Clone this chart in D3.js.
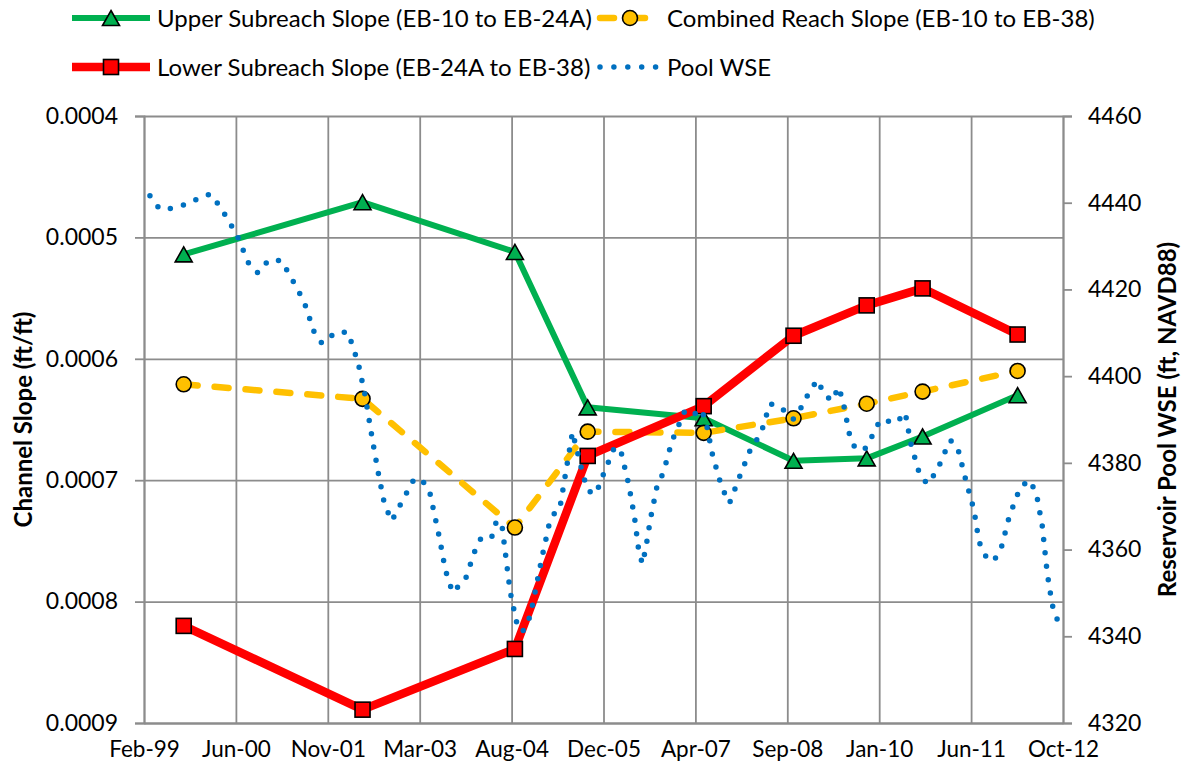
<!DOCTYPE html>
<html>
<head>
<meta charset="utf-8">
<script src="https://cdn.jsdelivr.net/npm/d3@7"></script>
<style>
  body { margin: 0; background: #fff; }
  svg text { font-family: Lato, "Open Sans", sans-serif; fill: #000; }
</style>
</head>
<body>
<svg id="chart" width="1182" height="771"></svg>
<script>
// --- DATA ---
// survey dates of the slope series
const surveyDates = ["1999-09-14", "2002-05-14", "2004-08-20", "2005-09-20", "2007-06-13",
                     "2008-10-14", "2009-11-16", "2010-09-16", "2012-02-15"];
const upperSlope    = [0.000514, 0.000471, 0.000512, 0.000640, 0.000649, 0.000684, 0.000682, 0.000664, 0.000630];
const combinedSlope = [0.000621, 0.000633, 0.000739, 0.000660, 0.000661, 0.000649, 0.000637, 0.000627, 0.000610];
const lowerSlope    = [0.000820, 0.000889, 0.000839, 0.000680, 0.000639, 0.000581, 0.000556, 0.000542, 0.000580];

// reservoir pool water surface (decimal year, ft NAVD88)
const poolYear = [
  1999.198, 1999.340, 1999.515, 1999.731, 1999.915, 2000.098, 2000.248, 2000.490, 2000.673, 2000.806,
  2000.965, 2001.148, 2001.265, 2001.490, 2001.640, 2001.756, 2001.965, 2002.148, 2002.298, 2002.398,
  2002.515, 2002.598, 2002.690, 2002.798, 2002.981, 2003.123, 2003.240, 2003.365, 2003.515, 2003.598,
  2003.706, 2003.898, 2004.048, 2004.140, 2004.290, 2004.365, 2004.448, 2004.506, 2004.565, 2004.665,
  2004.748, 2004.865, 2004.956, 2005.048, 2005.148, 2005.223, 2005.298, 2005.490, 2005.598, 2005.656,
  2005.731, 2005.840, 2005.923, 2006.106, 2006.165, 2006.223, 2006.331, 2006.415, 2006.473, 2006.531,
  2006.581, 2006.656, 2006.748, 2006.848, 2006.973, 2007.165, 2007.281, 2007.415, 2007.490, 2007.581,
  2007.715, 2007.831, 2007.981, 2008.156, 2008.298, 2008.431, 2008.573, 2008.781, 2008.923, 2009.023,
  2009.140, 2009.240, 2009.356, 2009.456, 2009.523, 2009.615, 2009.706, 2009.856, 2009.973, 2010.073,
  2010.231, 2010.315, 2010.448, 2010.531, 2010.665, 2010.781, 2010.931, 2011.015, 2011.123, 2011.231,
  2011.348, 2011.473, 2011.548, 2011.648, 2011.765, 2011.881, 2011.998, 2012.165, 2012.306, 2012.406,
  2012.490, 2012.565, 2012.640, 2012.715, 2012.780
];
const poolWSE = [
  4441.6, 4438.6, 4438.7, 4439.6, 4440.9, 4442.0, 4439.0, 4432.7, 4425.9, 4423.8,
  4426.7, 4426.7, 4423.7, 4417.3, 4410.3, 4407.6, 4410.1, 4410.1, 4403.1, 4395.9,
  4385.0, 4377.7, 4370.5, 4366.6, 4371.9, 4376.0, 4376.3, 4373.3, 4362.4, 4355.3,
  4350.1, 4353.2, 4360.1, 4362.9, 4362.9, 4366.8, 4364.9, 4357.6, 4350.2, 4342.9,
  4341.0, 4344.7, 4351.8, 4359.0, 4366.2, 4368.4, 4369.1, 4387.1, 4380.4, 4376.7,
  4373.5, 4372.8, 4376.3, 4383.2, 4383.7, 4382.0, 4374.9, 4367.5, 4360.4, 4356.7,
  4360.1, 4367.3, 4374.4, 4377.9, 4385.0, 4392.0, 4391.0, 4392.4, 4388.7, 4381.6,
  4374.4, 4370.7, 4376.8, 4383.6, 4386.6, 4393.6, 4393.1, 4390.1, 4393.3, 4396.6,
  4399.1, 4395.8, 4394.3, 4397.5, 4394.0, 4386.7, 4383.1, 4383.4, 4386.7, 4389.9,
  4389.5, 4389.2, 4391.6, 4384.4, 4377.2, 4375.1, 4378.4, 4381.7, 4385.2, 4383.4,
  4376.2, 4369.1, 4361.8, 4358.5, 4357.3, 4360.5, 4367.6, 4374.5, 4376.0, 4372.7,
  4365.5, 4354.5, 4347.2, 4343.8, 4343.5
];

// axis ticks
const slopeTicks = [0.0004, 0.0005, 0.0006, 0.0007, 0.0008, 0.0009];
const wseTicks = [4320, 4340, 4360, 4380, 4400, 4420, 4440, 4460];
const xAxisStart = "1999-02-10";   // date axis, major unit 500 days
const xMajorDays = 500;
const xTickCount = 11;

// --- SETUP ---
const W = 1182, H = 771;
const margin = { top: 116, right: 119, bottom: 48, left: 144 };
const iw = W - margin.left - margin.right;
const ih = H - margin.top - margin.bottom;

const parseDate = d3.timeParse("%Y-%m-%d");
const fromYear = y => {
  const yr = Math.floor(y);
  return new Date(new Date(yr, 0, 1).getTime() + (y - yr) * 365.25 * 864e5);
};

const x0 = parseDate(xAxisStart);
const xTicks = d3.range(xTickCount).map(i => d3.timeDay.offset(x0, i * xMajorDays));
const x = d3.scaleTime().domain([x0, xTicks[xTicks.length - 1]]).range([0, iw]);
const yL = d3.scaleLinear().domain([0.0004, 0.0009]).range([0, ih]);   // inverted slope axis
const yR = d3.scaleLinear().domain([4320, 4460]).range([ih, 0]);

const svg = d3.select("#chart");
const g = svg.append("g").attr("transform", `translate(${margin.left},${margin.top})`);

const gridColor = "#8c8c8c";

// gridlines
g.append("g")
  .call(d3.axisLeft(yL).tickValues(slopeTicks).tickSize(-iw).tickFormat(""))
  .call(a => a.select(".domain").remove())
  .selectAll("line").attr("stroke", gridColor).attr("stroke-width", 1.8);

g.append("g")
  .attr("transform", `translate(0,${ih})`)
  .call(d3.axisBottom(x).tickValues(xTicks).tickSize(-ih).tickFormat(""))
  .call(a => a.select(".domain").remove())
  .selectAll("line").attr("stroke", gridColor).attr("stroke-width", 1.8);

// left axis
const axL = g.append("g")
  .call(d3.axisLeft(yL).tickValues(slopeTicks).tickSize(9).tickPadding(17).tickFormat(d3.format(".4f")));
axL.selectAll("line, .domain").attr("stroke", gridColor).attr("stroke-width", 1.8);
axL.selectAll("text").style("font-size", "23px");

// right axis
const axR = g.append("g")
  .attr("transform", `translate(${iw},0)`)
  .call(d3.axisRight(yR).tickValues(wseTicks).tickSize(9).tickPadding(16).tickFormat(d3.format("d")));
axR.selectAll("line, .domain").attr("stroke", gridColor).attr("stroke-width", 1.8);
axR.selectAll("text").style("font-size", "23px");

// bottom axis
const axB = g.append("g")
  .attr("transform", `translate(0,${ih})`)
  .call(d3.axisBottom(x).tickValues(xTicks).tickSize(0).tickFormat(d3.timeFormat("%b-%y")));
axB.select(".domain").attr("stroke", gridColor).attr("stroke-width", 1.8);
axB.selectAll("text").attr("dy", 0).attr("y", 34).style("font-size", "22.5px");

// axis titles
g.append("text")
  .attr("transform", `translate(${-112},${ih / 2}) rotate(-90)`)
  .attr("text-anchor", "middle")
  .style("font-size", "24px").style("font-weight", "bold")
  .text("Channel Slope (ft/ft)");

g.append("text")
  .attr("transform", `translate(${iw + 113},${ih / 2}) rotate(-90)`)
  .attr("text-anchor", "middle")
  .style("font-size", "24px").style("font-weight", "bold")
  .text("Reservoir Pool WSE (ft, NAVD88)");

// --- SERIES ---
const triPath = "M0,-7.5L8.5,7.5L-8.5,7.5Z";

function drawMarker(sel, type, fill) {
  if (type === "triangle") {
    sel.append("path").attr("d", triPath);
  } else if (type === "square") {
    sel.append("rect").attr("x", -7.5).attr("y", -7.5).attr("width", 15).attr("height", 15);
  } else {
    sel.append("circle").attr("r", 7.5);
  }
  sel.selectAll("path, rect, circle").attr("fill", fill).attr("stroke", "#000").attr("stroke-width", 1.6);
}

const seriesDefs = [
  { name: "Upper Subreach Slope (EB-10 to EB-24A)", values: upperSlope, color: "#00B050", width: 6, dash: null, marker: "triangle" },
  { name: "Combined Reach Slope (EB-10 to EB-38)", values: combinedSlope, color: "#FFC000", width: 6.5, dash: "14,17", marker: "circle" },
  { name: "Lower Subreach Slope (EB-24A to EB-38)", values: lowerSlope, color: "#FF0000", width: 8.5, dash: null, marker: "square" }
];

const slopeLine = d3.line().x(d => x(d.date)).y(d => yL(d.v));

seriesDefs.forEach(s => {
  const data = surveyDates.map((d, i) => ({ date: parseDate(d), v: s.values[i] }));
  g.append("path")
    .datum(data)
    .attr("d", slopeLine)
    .attr("fill", "none")
    .attr("stroke", s.color)
    .attr("stroke-width", s.width)
    .attr("stroke-linejoin", "round")
    .attr("stroke-linecap", s.dash ? "round" : "butt")
    .attr("stroke-dasharray", s.dash);
  g.selectAll(null).data(data).enter().append("g")
    .attr("transform", d => `translate(${x(d.date)},${yL(d.v)})`)
    .each(function () { drawMarker(d3.select(this), s.marker, s.color); });
});

// pool WSE, dotted line on the secondary axis
const poolData = poolYear.map((y, i) => ({ date: fromYear(y), v: poolWSE[i] }));
g.append("path")
  .datum(poolData)
  .attr("d", d3.line().x(d => x(d.date)).y(d => yR(d.v)))
  .attr("fill", "none")
  .attr("stroke", "#0070C0")
  .attr("stroke-width", 5.5)
  .attr("stroke-linecap", "round")
  .attr("stroke-dasharray", "0,13.5");

// --- LEGEND ---
const legend = svg.append("g");
const legendItems = [
  { s: seriesDefs[0], x: 72, y: 18 },
  { s: seriesDefs[1], x: 600, y: 18 },
  { s: seriesDefs[2], x: 72, y: 67 },
  { s: { name: "Pool WSE", color: "#0070C0", width: 5.5, dash: "0,13.9", marker: null }, x: 600, y: 67 }
];
legendItems.forEach(it => {
  const lg = legend.append("g").attr("transform", `translate(${it.x},${it.y})`);
  const len = it.x < 300 ? 78 : 60;
  lg.append("line")
    .attr("x1", 0).attr("x2", len)
    .attr("stroke", it.s.color)
    .attr("stroke-width", it.s.width)
    .attr("stroke-linecap", it.s.dash ? "round" : "butt")
    .attr("stroke-dasharray", it.s.dash);
  if (it.s.marker) {
    const m = lg.append("g").attr("transform", `translate(${len / 2},0)`);
    drawMarker(m, it.s.marker, it.s.color);
  }
  lg.append("text")
    .attr("x", it.x < 300 ? 85 : 67)
    .attr("y", 9)
    .style("font-size", "24px")
    .text(it.s.name);
});
</script>
</body>
</html>
